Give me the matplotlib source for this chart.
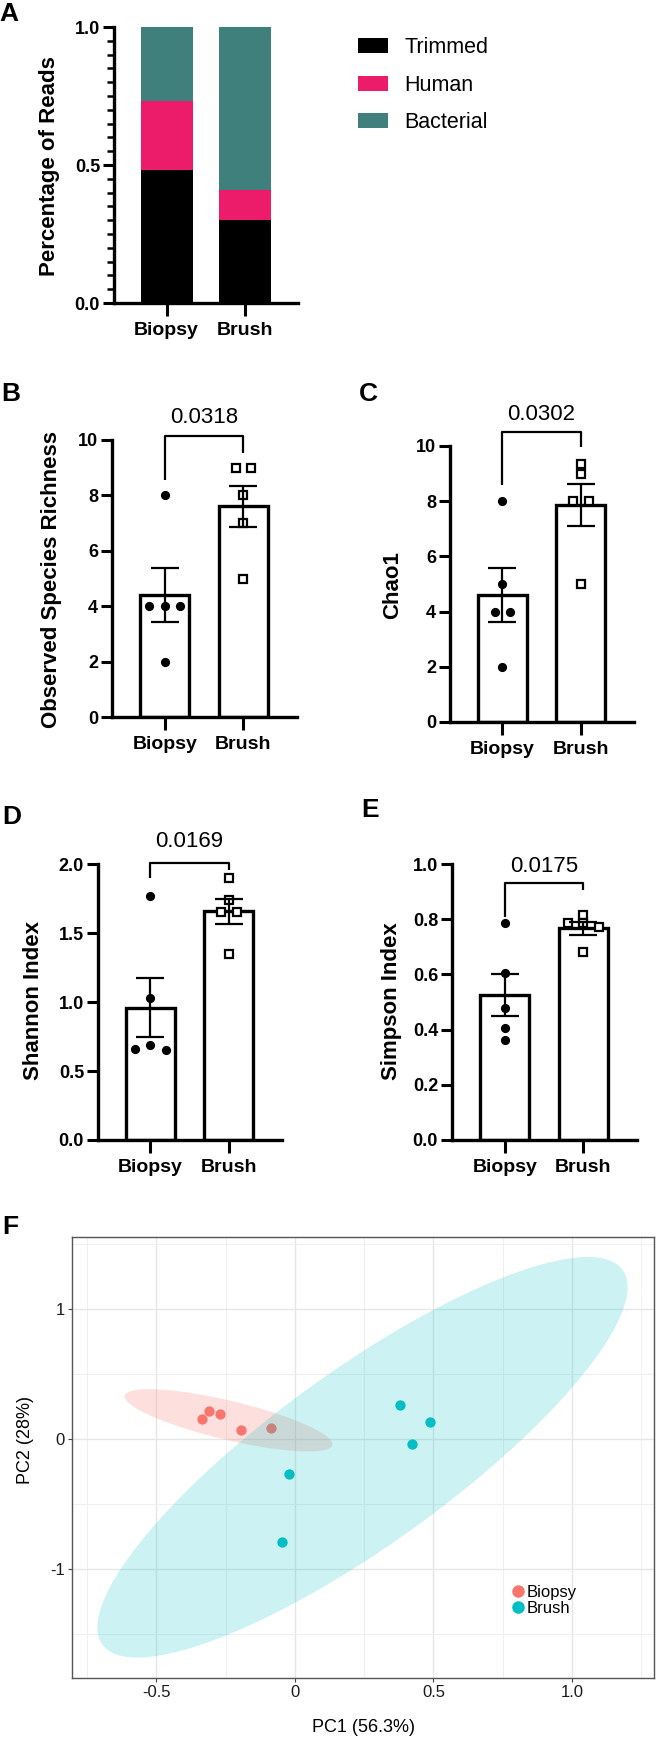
import numpy as np
import matplotlib
matplotlib.use("Agg")
import matplotlib.pyplot as plt
from matplotlib.patches import Patch, Polygon
from matplotlib.lines import Line2D
from matplotlib.ticker import MultipleLocator, FixedLocator

plt.rcParams['font.family'] = ['Liberation Sans', 'DejaVu Sans']
plt.rcParams['axes.unicode_minus'] = False

# ---------------- data ----------------
groups = ["Biopsy", "Brush"]
read_classes = ["Trimmed", "Human", "Bacterial"]
reads_trimmed = [0.483, 0.300]
reads_human = [0.250, 0.110]
reads_bacterial = [0.267, 0.590]

richness_biopsy = [8, 4, 4, 4, 2]
richness_brush = [9, 9, 8, 7, 5]
chao1_biopsy = [8, 5, 4, 4, 2]
chao1_brush = [9.33, 9, 8, 8, 5]
shannon_biopsy = [1.77, 1.03, 0.69, 0.66, 0.65]
shannon_brush = [1.90, 1.74, 1.65, 1.65, 1.35]
simpson_biopsy = [0.785, 0.604, 0.477, 0.405, 0.362]
simpson_brush = [0.815, 0.785, 0.785, 0.77, 0.68]
p_values = ["0.0318", "0.0302", "0.0169", "0.0175"]

pc1_biopsy = [-0.336, -0.310, -0.271, -0.195, -0.087]
pc2_biopsy = [0.154, 0.215, 0.192, 0.069, 0.085]
pc1_brush = [0.378, 0.486, 0.423, -0.023, -0.046]
pc2_brush = [0.260, 0.134, -0.040, -0.270, -0.790]

# ---------------- layout helpers ----------------
W, H = 656, 1741
fig = plt.figure(figsize=(W / 100, H / 100), dpi=100)


def add_ax(l, t, r, b):
    return fig.add_axes([l / W, 1 - b / H, (r - l) / W, (b - t) / H])


def fx(x):
    return x / W


def fy(y):
    return 1 - y / H


SPINE_LW = 2.4
TICK_FS = 13
XT_FS = 14
YLAB_FS = 16
LETTER_FS = 19


def style_prism(ax):
    for s in ["top", "right"]:
        ax.spines[s].set_visible(False)
    for s in ["left", "bottom"]:
        ax.spines[s].set_linewidth(SPINE_LW)
    ax.tick_params(axis="y", direction="out", length=8, width=2.2, pad=2,
                   labelsize=TICK_FS)
    ax.tick_params(axis="x", direction="out", length=9, width=2.2, pad=5,
                   labelsize=XT_FS)
    for lab in ax.get_yticklabels() + ax.get_xticklabels():
        lab.set_fontweight("bold")


# ---------------- Panel A ----------------
axA = add_ax(114, 27, 298, 303)
xpos = np.arange(len(groups))
colors_A = ["#000000", "#EC1C6B", "#3F7F7C"]
bottom = np.zeros(len(groups))
handles = []
for vals, col, name in zip([reads_trimmed, reads_human, reads_bacterial], colors_A, read_classes):
    axA.bar(xpos, vals, bottom=bottom, width=0.66, color=col, linewidth=0)
    bottom = bottom + np.array(vals)
    handles.append(Patch(facecolor=col, edgecolor="none", label=name))
axA.set_xlim(-0.67, 1.67)
axA.set_ylim(0, 1.0)
axA.set_yticks([0, 0.5, 1.0])
axA.set_yticklabels(["0.0", "0.5", "1.0"])
axA.yaxis.set_minor_locator(MultipleLocator(0.05))
axA.set_xticks(xpos)
axA.set_xticklabels(groups)
style_prism(axA)
axA.tick_params(axis="y", which="minor", length=5, width=1.8)
axA.legend(handles=handles, loc="upper left", bbox_to_anchor=(fx(358), fy(37)),
           bbox_transform=fig.transFigure, frameon=False, fontsize=15.5,
           handlelength=1.4, handleheight=0.7, handletextpad=0.75,
           labelspacing=0.77, borderpad=0, borderaxespad=0)
fig.text(fx(50), fy(166), "Percentage of Reads", rotation=90, ha="center", va="center",
         fontsize=YLAB_FS, fontweight="bold")


# ---------------- bar + scatter panels ----------------
def swarm_offsets(vals, tol, step=0.2):
    vals = np.asarray(vals, dtype=float)
    order = np.argsort(-vals, kind="stable")
    offs = np.zeros(len(vals))
    groups_idx = []
    cur = [order[0]]
    for i in order[1:]:
        if abs(vals[cur[-1]] - vals[i]) <= tol:
            cur.append(i)
        else:
            groups_idx.append(cur)
            cur = [i]
    groups_idx.append(cur)
    for g in groups_idx:
        k = len(g)
        slots = (np.arange(k) - (k - 1) / 2) * step
        slot_order = sorted(range(k), key=lambda j: (abs(slots[j]), slots[j]))
        for idx, sj in zip(g, slot_order):
            offs[idx] = slots[sj]
    return offs


def bar_panel(rect, biopsy, brush, ymax, yticks, yticklabels, ylabel, ylabel_xy,
              pval, bracket, letter, letter_xy):
    ax = add_ax(*rect)
    data = [np.asarray(biopsy, float), np.asarray(brush, float)]
    means = [d.mean() for d in data]
    sems = [d.std(ddof=1) / np.sqrt(len(d)) for d in data]
    ax.bar(xpos, means, width=0.62, facecolor="white", edgecolor="black",
           linewidth=SPINE_LW, zorder=1)
    tol = 0.025 * ymax
    ob = swarm_offsets(data[0], tol)
    ax.plot(xpos[0] + ob, data[0], "o", color="black", ms=5.6, zorder=3, clip_on=False)
    osq = swarm_offsets(data[1], tol)
    ax.plot(xpos[1] + osq, data[1], "s", mfc="white", mec="black", ms=5.6, mew=1.6,
            zorder=3, clip_on=False)
    ax.errorbar(xpos, means, yerr=sems, fmt="none", ecolor="black", elinewidth=1.6,
                capsize=10, capthick=1.6, zorder=4)
    ax.set_xlim(-0.67, 1.68)
    ax.set_ylim(0, ymax)
    ax.set_yticks(yticks)
    ax.set_yticklabels(yticklabels)
    ax.set_xticks(xpos)
    ax.set_xticklabels(groups)
    style_prism(ax)
    top, legL, legR, txt = bracket
    ax.plot([0, 0, 1, 1], [legL, top, top, legR], color="black", lw=1.6,
            clip_on=False, solid_capstyle="butt")
    ax.text(0.5, txt, pval, ha="center", va="baseline", fontsize=16, clip_on=False)
    fig.text(fx(ylabel_xy[0]), fy(ylabel_xy[1]), ylabel, rotation=90, ha="center",
             va="center", fontsize=YLAB_FS, fontweight="bold")
    fig.text(fx(letter_xy[0]), fy(letter_xy[1]), letter, ha="center", va="center",
             fontsize=LETTER_FS, fontweight="bold")
    return ax


bar_panel((112, 440, 297, 717), richness_biopsy, richness_brush, 10,
          [0, 2, 4, 6, 8, 10], ["0", "2", "4", "6", "8", "10"],
          "Observed Species Richness", (52, 580), p_values[0],
          (10.14, 8.56, 9.53, 10.61), "B", (11, 394))
bar_panel((450, 446, 634, 722), chao1_biopsy, chao1_brush, 10,
          [0, 2, 4, 6, 8, 10], ["0", "2", "4", "6", "8", "10"],
          "Chao1", (393, 585), p_values[1],
          (10.5, 8.6, 9.96, 10.95), "C", (368, 394))
bar_panel((98, 864, 282, 1140), shannon_biopsy, shannon_brush, 2.0,
          [0, 0.5, 1.0, 1.5, 2.0], ["0.0", "0.5", "1.0", "1.5", "2.0"],
          "Shannon Index", (34, 1001), p_values[2],
          (2.01, 1.90, 1.955, 2.12), "D", (12, 817))
bar_panel((452, 864, 637, 1140), simpson_biopsy, simpson_brush, 1.0,
          [0, 0.2, 0.4, 0.6, 0.8, 1.0], ["0.0", "0.2", "0.4", "0.6", "0.8", "1.0"],
          "Simpson Index", (392, 1001), p_values[3],
          (0.931, 0.808, 0.906, 0.971), "E", (370, 810))

fig.text(fx(9), fy(14), "A", ha="center", va="center", fontsize=LETTER_FS, fontweight="bold")

# ---------------- Panel F (PCA) ----------------
axF = add_ax(72, 1237, 654, 1678)
col_b, col_r = "#F8766D", "#00BFC4"


def conf_ellipse(x, y, level=0.95, npts=101):
    x = np.asarray(x, float)
    y = np.asarray(y, float)
    n = len(x)
    cov = np.cov(np.vstack([x, y]))
    dfd = n - 1
    fq = (dfd / 2.0) * ((1 - level) ** (-2.0 / dfd) - 1)  # qf(level, 2, dfd)
    radius = np.sqrt(2 * fq)
    vals, vecs = np.linalg.eigh(cov)
    t = np.linspace(0, 2 * np.pi, npts)
    circ = np.vstack([np.cos(t), np.sin(t)])
    pts = vecs @ (np.sqrt(vals)[:, None] * circ) * radius
    return np.column_stack([pts[0] + x.mean(), pts[1] + y.mean()])


axF.scatter(pc1_biopsy, pc2_biopsy, s=55, color=col_b, zorder=2, linewidths=0)
axF.scatter(pc1_brush, pc2_brush, s=55, color=col_r, zorder=2, linewidths=0)
axF.add_patch(Polygon(conf_ellipse(pc1_biopsy, pc2_biopsy), closed=True,
                      facecolor=col_b, alpha=0.22, edgecolor="none", zorder=3))
axF.add_patch(Polygon(conf_ellipse(pc1_brush, pc2_brush), closed=True,
                      facecolor=col_r, alpha=0.2, edgecolor="none", zorder=3))
axF.set_xlim(-0.805, 1.296)
axF.set_ylim(-1.84, 1.554)
axF.set_xticks([-0.5, 0, 0.5, 1.0])
axF.set_xticklabels(["-0.5", "0", "0.5", "1.0"])
axF.set_yticks([-1, 0, 1])
axF.set_yticklabels(["-1", "0", "1"])
axF.xaxis.set_minor_locator(FixedLocator([-0.75, -0.25, 0.25, 0.75, 1.25]))
axF.yaxis.set_minor_locator(FixedLocator([-1.5, -0.5, 0.5, 1.5]))
axF.grid(True, which="major", color="#E6E6E6", lw=1.0, zorder=0)
axF.grid(True, which="minor", color="#EFEFEF", lw=0.7, zorder=0)
axF.set_axisbelow(True)
for s in axF.spines.values():
    s.set_color("#555555")
    s.set_linewidth(1.0)
axF.tick_params(which="major", direction="out", length=3, width=0.8, color="#444444",
                labelsize=12, labelcolor="#1a1a1a", pad=2)
axF.tick_params(which="minor", length=0)
axF.legend(handles=[Line2D([], [], marker="o", ls="none", color=col_b, ms=8, label="Biopsy"),
                    Line2D([], [], marker="o", ls="none", color=col_r, ms=8, label="Brush")],
           loc="upper left", bbox_to_anchor=(fx(514), fy(1585)),
           bbox_transform=fig.transFigure, frameon=False, fontsize=12,
           handlelength=0.5, handletextpad=0.25, labelspacing=0.05,
           borderpad=0, borderaxespad=0)
fig.text(fx(363), fy(1728), "PC1 (56.3%)", ha="center", va="center", fontsize=13)
fig.text(fx(25), fy(1440), "PC2 (28%)", rotation=90, ha="center", va="center", fontsize=13)
fig.text(fx(10), fy(1227), "F", ha="center", va="center", fontsize=LETTER_FS, fontweight="bold")

fig.savefig("out.png", dpi=100)
